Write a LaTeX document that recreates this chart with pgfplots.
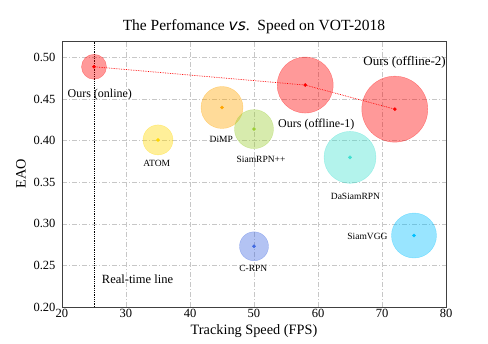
\documentclass[border=0pt]{standalone}
\usepackage{pgfplots}
\pgfplotsset{compat=1.18}
\usepackage{fontspec}
\setmainfont{Liberation Serif}
\newfontfamily\dejavu{DejaVu Sans}
\definecolor{mred}{HTML}{FF0000}
\definecolor{morange}{HTML}{FFA500}
\definecolor{mgold}{HTML}{FFD700}
\definecolor{mygreen}{HTML}{9ACD32}
\definecolor{mturq}{HTML}{40E0D0}
\definecolor{msky}{HTML}{00BFFF}
\definecolor{mroyal}{HTML}{4169E1}
\pgfplotsset{
  bubble/.style={only marks, scatter, mark=*,
    scatter/use mapped color={draw=#1, fill=#1},
    mark options={opacity=0.4},
    visualization depends on={\thisrow{r} \as \rad},
    scatter/@pre marker code/.append style={/tikz/mark size=\rad pt}},
  dot/.style={only marks, mark=*, mark size=1.6pt, color=#1},
}
\newcommand{\lbig}{\fontsize{12}{14}\selectfont}
\newcommand{\lsml}{\fontsize{9.5}{11}\selectfont}
\begin{document}
\begin{tikzpicture}
\begin{axis}[
  scale only axis, width=384pt, height=266pt,
  xmin=20, xmax=80, ymin=0.2, ymax=0.52,
  xtick={20,30,40,50,60,70,80},
  ytick={0.20,0.25,0.30,0.35,0.40,0.45,0.50},
  yticklabel style={/pgf/number format/fixed, /pgf/number format/fixed zerofill,
    /pgf/number format/precision=2, xshift=-3pt},
  /pgf/number format/assume math mode=true,
  tick label style={font=\fontsize{12.5}{14}\selectfont},
  major tick length=0pt,
  xticklabel style={yshift=1pt},
  xmajorgrids, ymajorgrids,
  major grid style={black!22, line width=0.6pt, dash pattern=on 5pt off 2pt on 1pt off 2pt},
  axis line style={black!75, line width=0.8pt},
  xlabel={Tracking Speed (FPS)}, ylabel={EAO},
  label style={font=\fontsize{14.3}{16}\selectfont},
  xlabel style={yshift=0pt},
  ylabel style={yshift=1pt},
  title={The Perfomance {\dejavu\itshape vs}.\ \ Speed on VOT-2018},
  title style={font=\fontsize{15.5}{17}\selectfont, yshift=-2pt},
  clip mode=individual,
]
% real-time line
\addplot[black, densely dotted, line width=0.8pt] coordinates {(25,0.2) (25,0.52)};
% bubbles
\addplot[bubble=mred] table[row sep=\\] {x y r\\ 25 0.489 12.5\\};
\addplot[bubble=mred] table[row sep=\\] {x y r\\ 58 0.467 28\\};
\addplot[bubble=mred] table[row sep=\\] {x y r\\ 72 0.438 33\\};
\addplot[bubble=morange] table[row sep=\\] {x y r\\ 45 0.440 21\\};
\addplot[bubble=mgold] table[row sep=\\] {x y r\\ 35 0.401 15\\};
\addplot[bubble=mygreen] table[row sep=\\] {x y r\\ 50 0.414 19.5\\};
\addplot[bubble=mturq] table[row sep=\\] {x y r\\ 65 0.380 26\\};
\addplot[bubble=msky] table[row sep=\\] {x y r\\ 75 0.286 22.5\\};
\addplot[bubble=mroyal] table[row sep=\\] {x y r\\ 50 0.273 14.5\\};
% connecting line of ours
\addplot[mred, densely dotted, line width=0.7pt] coordinates {(25,0.489) (58,0.467) (72,0.438)};
% centre dots
\addplot[dot=mred] coordinates {(25,0.489) (58,0.467) (72,0.438)};
\addplot[dot=morange] coordinates {(45,0.440)};
\addplot[dot=mgold] coordinates {(35,0.401)};
\addplot[dot=mygreen] coordinates {(50,0.414)};
\addplot[dot=mturq] coordinates {(65,0.380)};
\addplot[dot=msky] coordinates {(75,0.286)};
\addplot[dot=mroyal] coordinates {(50,0.273)};
% labels
\node[font=\lbig] at (axis cs:25.9,0.456) {Ours (online)};
\node[font=\fontsize{13}{15}\selectfont, anchor=east, inner xsep=0pt] at (axis cs:80,0.494) {Ours (offline-2)};
\node[font=\lbig, anchor=west, inner xsep=0pt] at (axis cs:53.75,0.420) {Ours (offline-1)};
\node[font=\lsml] at (axis cs:44.9,0.4015) {DiMP};
\node[font=\lsml] at (axis cs:34.8,0.373) {ATOM};
\node[font=\lsml] at (axis cs:51.1,0.377) {SiamRPN++};
\node[font=\lsml] at (axis cs:65.85,0.333) {DaSiamRPN};
\node[font=\lsml, anchor=east, inner xsep=0pt] at (axis cs:70.9,0.2847) {SiamVGG};
\node[font=\lsml] at (axis cs:49.9,0.247) {C-RPN};
\node[font=\fontsize{12.5}{14}\selectfont] at (axis cs:31.8,0.2335) {Real-time line};
\end{axis}
\path (current axis.south west) ++(-62pt,-37pt) rectangle ++(488pt,344pt);
\end{tikzpicture}
\end{document}
